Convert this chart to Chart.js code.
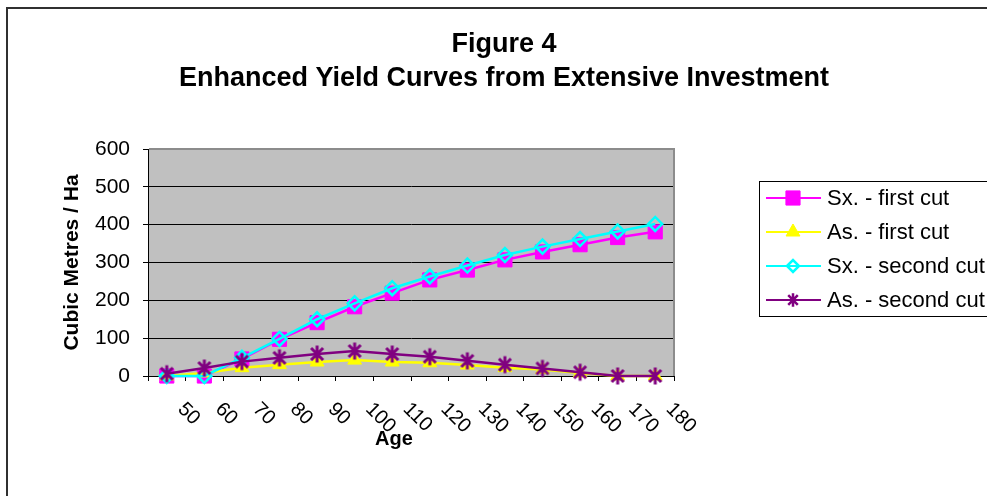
<!DOCTYPE html>
<html>
<head>
<meta charset="utf-8">
<title>Figure 4</title>
<script src="https://cdn.jsdelivr.net/npm/chart.js@4.4.1/dist/chart.umd.min.js"></script>
<style>
  html, body { margin: 0; padding: 0; background: #fff; }
  #wrap { width: 987px; height: 496px; position: relative; }
</style>
</head>
<body>
<div id="wrap"><canvas id="chart" width="987" height="496"></canvas></div>
<script>
// Stand age classes (years)
const ages = ['50', '60', '70', '80', '90', '100', '110', '120', '130', '140', '150', '160', '170', '180'];

// Yield per hectare (m³/ha) for each species and cut
const sxFirstCut  = [0, 0, 45, 97, 141, 183, 219, 254, 280, 307, 328, 347, 366, 381];
const asFirstCut  = [0, 8, 22, 30, 37, 42, 37, 35, 29, 22, 17, 8, 0, 0];
const sxSecondCut = [0, 0, 48, 98, 150, 192, 232, 263, 292, 320, 342, 362, 382, 402];
const asSecondCut = [6, 21, 38, 48, 58, 66, 58, 51, 40, 30, 20, 10, 0, 0];

const seriesNames = ['Sx. - first cut', 'As. - first cut', 'Sx. - second cut', 'As. - second cut'];
const yTicks = [0, 100, 200, 300, 400, 500, 600];
const titleLines = ['Figure 4', 'Enhanced Yield Curves from Extensive Investment'];
const xAxisTitle = 'Age';
const yAxisTitle = 'Cubic Metres / Ha';

const FONT = "'Liberation Sans', Arial, Helvetica, sans-serif";

// Six-armed asterisk marker (an X crossed by a vertical stroke)
function asteriskMarker(size, color, width) {
  const c = document.createElement('canvas');
  c.width = size; c.height = size;
  const g = c.getContext('2d');
  const m = size / 2, r = size / 2 - width / 2;
  const d = r * Math.SQRT1_2;
  g.strokeStyle = color;
  g.lineWidth = width;
  g.lineCap = 'butt';
  g.beginPath();
  g.moveTo(m, m - r); g.lineTo(m, m + r);
  g.moveTo(m - d, m - d); g.lineTo(m + d, m + d);
  g.moveTo(m + d, m - d); g.lineTo(m - d, m + d);
  g.stroke();
  return c;
}
const starPlot = asteriskMarker(20, '#800080', 3);
const starLegend = asteriskMarker(16, '#800080', 2.5);

// Background, frame, title, rotated age labels and the boxed legend
const decor = {
  id: 'decor',
  beforeDraw(chart) {
    const { ctx, chartArea: a } = chart;
    ctx.save();
    ctx.fillStyle = '#ffffff';
    ctx.fillRect(0, 0, chart.width, chart.height);
    ctx.fillStyle = '#C0C0C0';
    ctx.fillRect(a.left, a.top, a.right - a.left, a.bottom - a.top);
    ctx.strokeStyle = '#303030';
    ctx.lineWidth = 2;
    ctx.strokeRect(7, 8, chart.width + 40, chart.height + 40);
    ctx.restore();
  },
  beforeDatasetsDraw(chart) {
    const { ctx, chartArea: a } = chart;
    ctx.save();
    ctx.strokeStyle = '#8c8c8c';
    ctx.lineWidth = 2;
    ctx.beginPath();
    ctx.moveTo(a.left + 1, a.top);
    ctx.lineTo(a.right, a.top);
    ctx.lineTo(a.right, a.bottom);
    ctx.stroke();
    ctx.restore();
  },
  afterDraw(chart) {
    const { ctx } = chart;
    const xs = chart.scales.x;
    ctx.save();
    ctx.fillStyle = '#000';

    // Chart title
    ctx.font = 'bold 27px ' + FONT;
    ctx.textAlign = 'center';
    ctx.textBaseline = 'alphabetic';
    ctx.fillText(titleLines[0], 504, 52);
    ctx.fillText(titleLines[1], 504, 86);

    // Age labels, slanted downward
    ctx.font = '20px ' + FONT;
    ctx.textAlign = 'left';
    ctx.textBaseline = 'middle';
    ages.forEach((lab, i) => {
      const x = xs.getPixelForValue(i);
      ctx.save();
      ctx.translate(x + 14, 406);
      ctx.rotate(Math.PI / 4);
      ctx.fillText(lab, 0, 0);
      ctx.restore();
    });

    // x-axis title
    ctx.font = 'bold 20px ' + FONT;
    ctx.textAlign = 'center';
    ctx.textBaseline = 'alphabetic';
    ctx.fillText(xAxisTitle, 394, 445);

    // Legend
    ctx.strokeStyle = '#000';
    ctx.lineWidth = 1;
    ctx.strokeRect(759.5, 181.5, 400, 135);
    const rows = [198, 232, 266, 300];
    const legendRadius = [10, 8, 6, 8];
    chart.data.datasets.forEach((ds, i) => {
      const y = rows[i];
      ctx.strokeStyle = ds.borderColor;
      ctx.lineWidth = 2;
      ctx.beginPath();
      ctx.moveTo(766, y);
      ctx.lineTo(821, y);
      ctx.stroke();
      if (ds.pointStyle === starPlot) {
        ctx.drawImage(starLegend, 793 - 8, y - 8);
      } else {
        ctx.fillStyle = ds.pointBackgroundColor;
        ctx.strokeStyle = ds.pointBorderColor;
        ctx.lineWidth = ds.pointBorderWidth;
        Chart.helpers.drawPoint(ctx, {
          pointStyle: ds.pointStyle,
          radius: legendRadius[i],
          rotation: 0,
          borderWidth: ds.pointBorderWidth
        }, 793, y);
      }
      ctx.fillStyle = '#000';
      ctx.font = '22px ' + FONT;
      ctx.textAlign = 'left';
      ctx.textBaseline = 'middle';
      ctx.fillText(ds.label, 827, y + 1);
    });
    ctx.restore();
  }
};

const ctx = document.getElementById('chart').getContext('2d');
new Chart(ctx, {
  type: 'line',
  data: {
    labels: ages,
    datasets: [
      {
        label: seriesNames[0], data: sxFirstCut, order: 4,
        borderColor: '#FF00FF', borderWidth: 2.5,
        pointStyle: 'rect', pointRadius: 10, pointHoverRadius: 10,
        pointBackgroundColor: '#FF00FF', pointBorderColor: '#FF00FF', pointBorderWidth: 1
      },
      {
        label: seriesNames[1], data: asFirstCut, order: 3,
        borderColor: '#FFFF00', borderWidth: 2.5,
        pointStyle: 'triangle', pointRadius: 8, pointHoverRadius: 8,
        pointBackgroundColor: '#FFFF00', pointBorderColor: '#FFFF00', pointBorderWidth: 1
      },
      {
        label: seriesNames[2], data: sxSecondCut, order: 2,
        borderColor: '#00FFFF', borderWidth: 2.5,
        pointStyle: 'rectRot', pointRadius: 7, pointHoverRadius: 7,
        pointBackgroundColor: 'rgba(0,0,0,0)', pointBorderColor: '#00FFFF', pointBorderWidth: 2.5
      },
      {
        label: seriesNames[3], data: asSecondCut, order: 1,
        borderColor: '#800080', borderWidth: 2.5,
        pointStyle: starPlot, pointRadius: 10, pointHoverRadius: 10,
        pointBackgroundColor: '#800080', pointBorderColor: '#800080', pointBorderWidth: 2.5
      }
    ].map(d => Object.assign(d, { tension: 0, clip: false, fill: false }))
  },
  options: {
    responsive: false,
    animation: false,
    events: [],
    layout: { padding: { left: 50, top: 149, right: 313, bottom: 0 } },
    plugins: {
      legend: { display: false },
      title: { display: false },
      tooltip: { enabled: false }
    },
    scales: {
      x: {
        type: 'category',
        offset: true,
        afterFit(scale) { scale.height = 120; },
        grid: { offset: true, drawOnChartArea: false, drawTicks: true, tickLength: 5, color: '#000', lineWidth: 1 },
        border: { display: true, color: '#000', width: 1 },
        ticks: { display: false }
      },
      y: {
        min: 0, max: 600,
        afterFit(scale) { scale.width = 98; },
        afterBuildTicks(scale) { scale.ticks = yTicks.map(v => ({ value: v })); },
        grid: { color: '#000', lineWidth: 1, drawTicks: true, tickLength: 5 },
        border: { display: true, color: '#000', width: 1 },
        ticks: { color: '#000', padding: 13, font: { family: FONT, size: 21 } },
        title: {
          display: true, text: yAxisTitle, color: '#000',
          font: { family: FONT, size: 21, weight: 'bold' },
          padding: { top: 10, bottom: 0 }
        }
      }
    }
  },
  plugins: [decor]
});
</script>
</body>
</html>
